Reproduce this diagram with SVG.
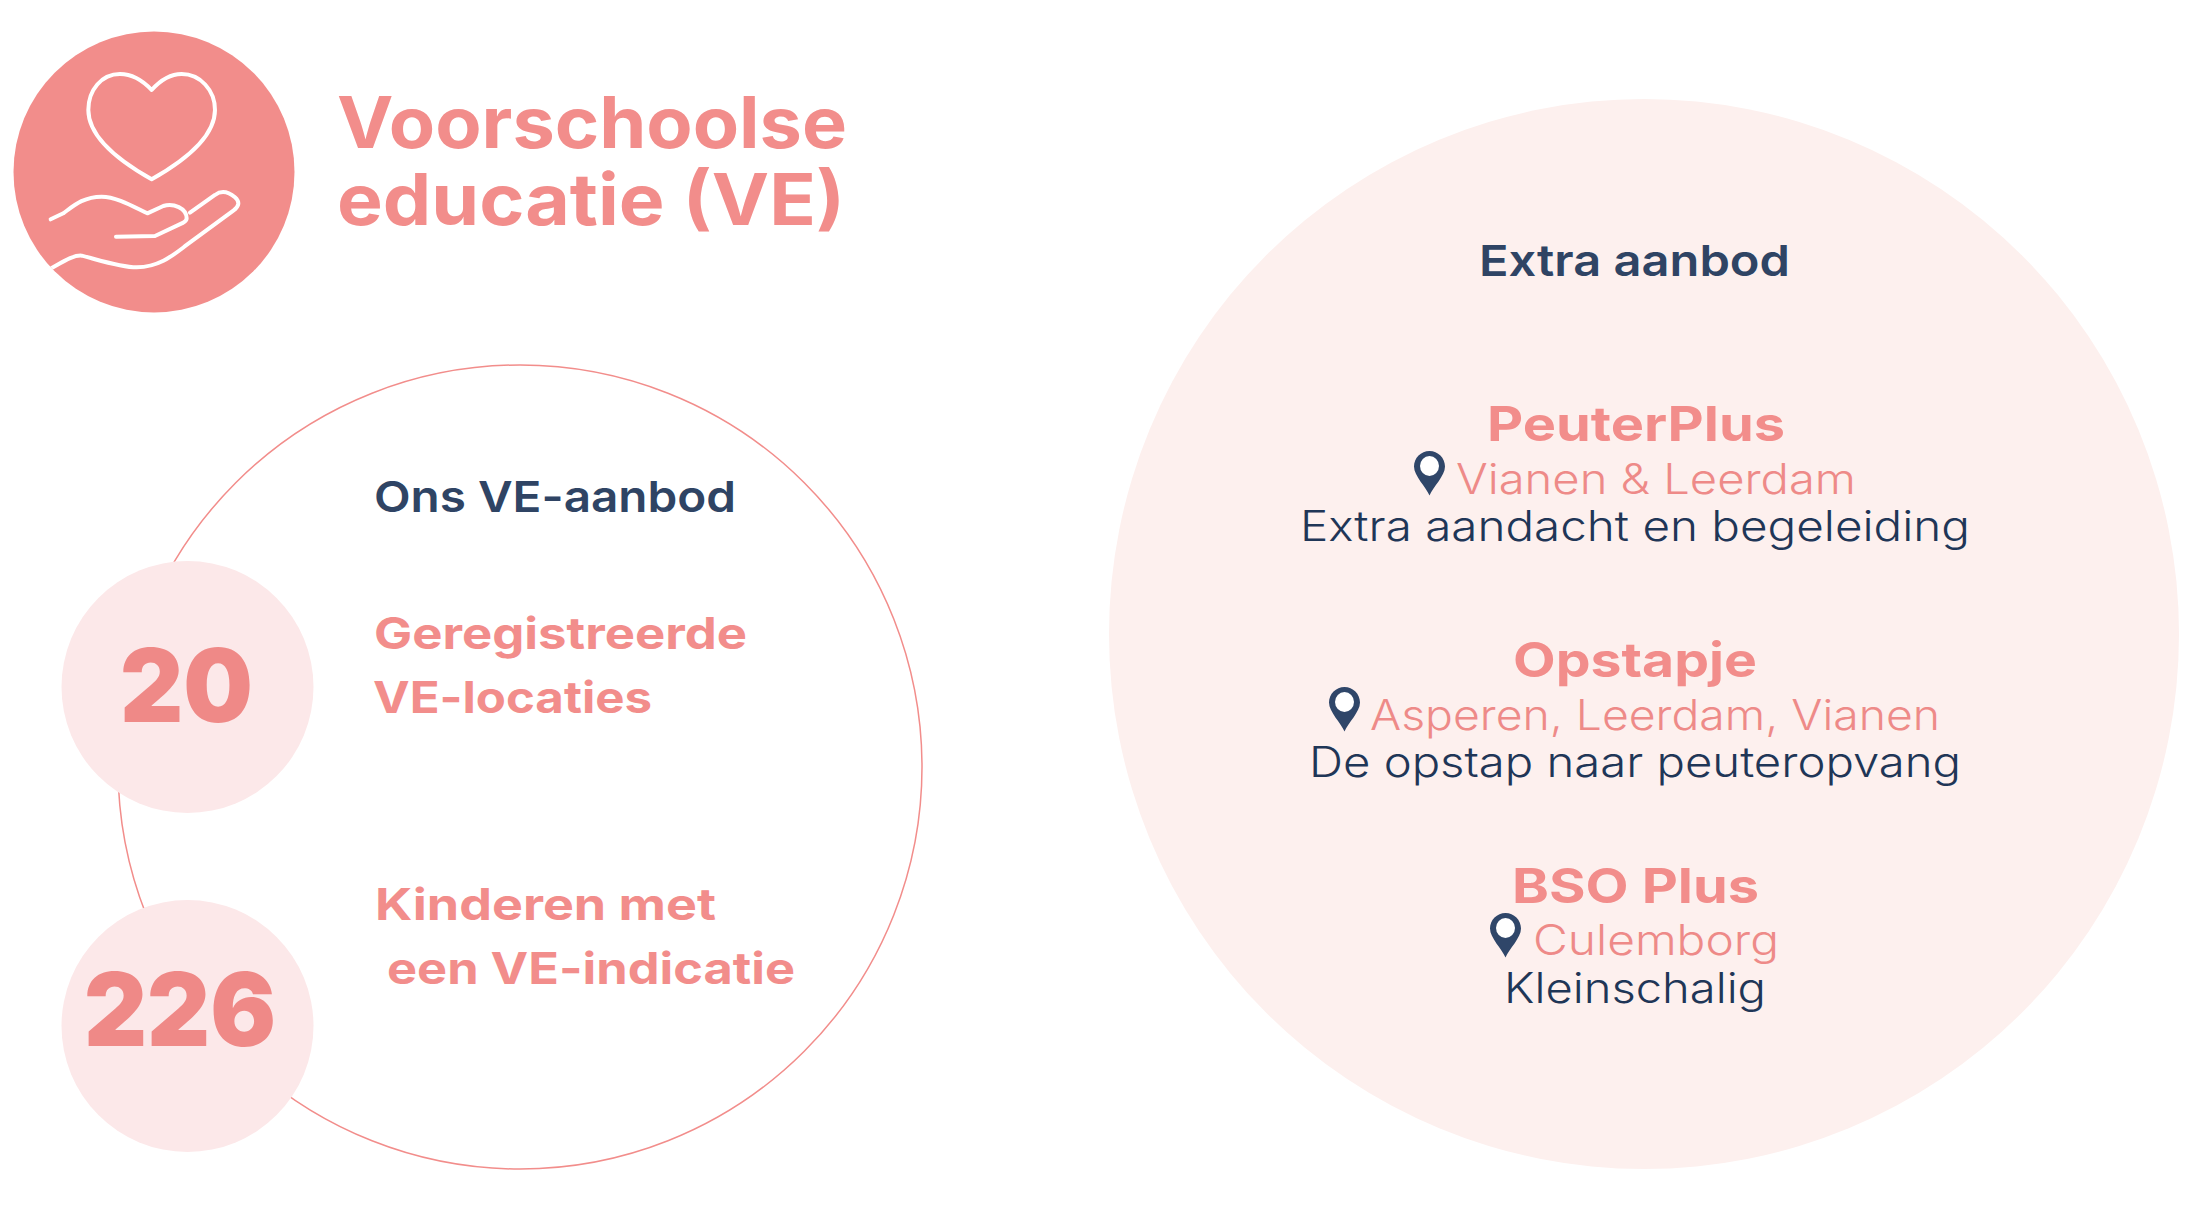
<svg xmlns="http://www.w3.org/2000/svg" xmlns:xlink="http://www.w3.org/1999/xlink" width="2200" height="1211" viewBox="0 0 2200 1211">
<style>
text{font-family:"Inter","Liberation Sans",sans-serif}
.title{font-size:71px;font-weight:700;fill:#f28d8b}
.head{font-size:43px;font-weight:600;fill:#2f4464}
.label{font-size:44px;font-weight:700;fill:#f28d8b}
.num{font-size:102px;font-weight:900;fill:#ef8987}
.name{font-size:48px;font-weight:700;fill:#f28d8b}
.place{font-size:42px;font-weight:300;fill:#ee8a88}
.desc{font-size:42px;font-weight:300;fill:#1f3657}
.soft{fill:#fce8e9}
.line{fill:none;stroke:#fff;stroke-width:12;stroke-linecap:round;stroke-linejoin:round}
</style>
<defs>
<g id="pin"><path d="M15.500 44.500C12 36 0 25 0 15.500C0 7 7 0 15.500 0S31 7 31 15.500C31 25 19 36 15.500 44.500Z" fill="#2f4669"/><ellipse cx="15.500" cy="15" rx="9.500" ry="10" fill="#fff"/></g>
<clipPath id="badge"><circle cx="154" cy="172" r="140.500"/></clipPath>
</defs>
<rect width="2200" height="1211" fill="#fff"/>
<g id="header">
<circle cx="154" cy="172" r="140.500" fill="#f28d8b"/>
<g clip-path="url(#badge)"><g transform="translate(30 50) scale(.3333)">
<path class="line" d="M365 120C335 88 305 72 270 72C215 72 175 120 175 180C175 265 280 340 365 388C450 340 555 265 555 180C555 120 510 72 455 72C420 72 392 90 365 120Z"/>
<path class="line" d="M62 508L100 490C130 468 160 440 215 440C260 440 310 470 352 490L400 468C430 458 470 475 470 505C470 512 465 515 460 518L375 558L258 560"/>
<path class="line" d="M480 488L555 435C575 420 595 425 615 442C630 455 628 470 610 482L470 585C430 615 390 650 320 652C270 652 200 628 155 617C130 615 100 635 60 657"/>
</g></g>
<text class="title"><tspan x="337" y="148" textLength="510" lengthAdjust="spacingAndGlyphs">Voorschoolse</tspan><tspan x="337" y="225" textLength="508" lengthAdjust="spacingAndGlyphs">educatie (VE)</tspan></text>
</g>
<g id="ve-aanbod">
<circle cx="520" cy="767" r="402" fill="#fff" stroke="#f28d8b" stroke-width="1.500"/>
<text class="head" x="374" y="512" textLength="362" lengthAdjust="spacingAndGlyphs">Ons VE-aanbod</text>
</g>
<g id="stat-20">
<circle class="soft" cx="187.500" cy="687" r="126"/>
<text class="num" x="120" y="722" textLength="133" lengthAdjust="spacingAndGlyphs">20</text>
<text class="label" x="374" y="649" textLength="373" lengthAdjust="spacingAndGlyphs">Geregistreerde</text>
<text class="label" x="373" y="713" textLength="279" lengthAdjust="spacingAndGlyphs">VE-locaties</text>
</g>
<g id="stat-226">
<circle class="soft" cx="187.500" cy="1026" r="126"/>
<text class="num" x="84" y="1046" textLength="192" lengthAdjust="spacingAndGlyphs">226</text>
<text class="label" x="375" y="920" textLength="341" lengthAdjust="spacingAndGlyphs">Kinderen met</text>
<text class="label" x="387" y="984" textLength="408" lengthAdjust="spacingAndGlyphs">een VE-indicatie</text>
</g>
<g id="extra-aanbod">
<circle cx="1644" cy="634" r="535" fill="#fdf0ee"/>
<text class="head" x="1479" y="276" textLength="311" lengthAdjust="spacingAndGlyphs">Extra aanbod</text>
</g>
<g id="peuterplus">
<text class="name" x="1487" y="441" textLength="298" lengthAdjust="spacingAndGlyphs">PeuterPlus</text>
<use href="#pin" x="1414" y="451"/>
<text class="place" x="1456" y="494" textLength="400" lengthAdjust="spacingAndGlyphs">Vianen &amp; Leerdam</text>
<text class="desc" x="1300" y="541" textLength="670" lengthAdjust="spacingAndGlyphs">Extra aandacht en begeleiding</text>
</g>
<g id="opstapje">
<text class="name" x="1513" y="677" textLength="244" lengthAdjust="spacingAndGlyphs">Opstapje</text>
<use href="#pin" x="1329" y="687"/>
<text class="place" x="1370" y="730" textLength="570" lengthAdjust="spacingAndGlyphs">Asperen, Leerdam, Vianen</text>
<text class="desc" x="1309" y="777" textLength="652" lengthAdjust="spacingAndGlyphs">De opstap naar peuteropvang</text>
</g>
<g id="bso-plus">
<text class="name" x="1512" y="903" textLength="247" lengthAdjust="spacingAndGlyphs">BSO Plus</text>
<use href="#pin" x="1490" y="913"/>
<text class="place" x="1533" y="955" textLength="246" lengthAdjust="spacingAndGlyphs">Culemborg</text>
<text class="desc" x="1504" y="1003" textLength="262" lengthAdjust="spacingAndGlyphs">Kleinschalig</text>
</g>
<g id="connectors"/>
</svg>
